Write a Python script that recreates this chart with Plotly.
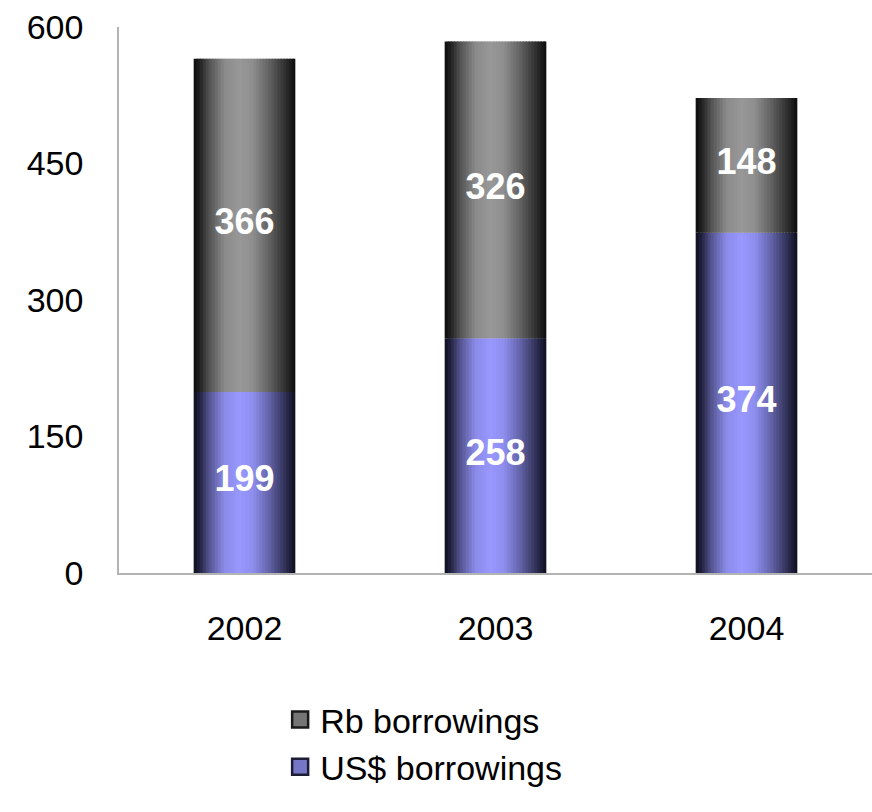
import plotly.graph_objects as go

# ---- data ----
years = ["2002", "2003", "2004"]
usd_borrowings = [199, 258, 374]
rb_borrowings = [366, 326, 148]
series_names = ["Rb borrowings", "US$ borrowings"]
y_ticks = [0, 150, 300, 450, 600]

# ---- styling helpers ----
BAR_W = 0.405
N_SLICES = 34
# brightness profile across bar width (position, factor)
profile = [(0.0, 0.0), (0.06, 0.15), (0.15, 0.5), (0.3, 0.9), (0.45, 1.0),
           (0.58, 0.93), (0.75, 0.6), (0.88, 0.3), (0.96, 0.1), (1.0, 0.0)]


def prof(t):
    for (a, fa), (b, fb) in zip(profile[:-1], profile[1:]):
        if a <= t <= b:
            return fa + (fb - fa) * (t - a) / (b - a)
    return 0.0


def mix(edge, peak, f):
    return "rgb(%d,%d,%d)" % tuple(round(e + (p - e) * f) for e, p in zip(edge, peak))


gray_edge, gray_peak = (12, 12, 12), (152, 152, 152)
blue_edge, blue_peak = (14, 14, 30), (152, 152, 255)

fig = go.Figure()

usd_base = [0] * len(years)
rb_base = usd_borrowings

s = BAR_W / N_SLICES
for name, vals, base, edge, peak, rank in [
    ("US$ borrowings", usd_borrowings, usd_base, blue_edge, blue_peak, 2),
    ("Rb borrowings", rb_borrowings, rb_base, gray_edge, gray_peak, 1),
]:
    for i in range(N_SLICES):
        t = (i + 0.5) / N_SLICES
        w = s * 1.6 if i < N_SLICES - 1 else s
        fig.add_trace(go.Bar(
            x=years, y=vals, base=base,
            width=w, offset=-BAR_W / 2 + i * s,
            marker=dict(color=mix(edge, peak, prof(t)), line=dict(width=0)),
            name=name, legendgroup=name, legendrank=rank,
            showlegend=False, hoverinfo="skip",
        ))
    # legend proxy
    fig.add_trace(go.Scatter(
        x=[None], y=[None], mode="markers", name=name, legendgroup=name, legendrank=rank,
        marker=dict(symbol="square", size=16, color=mix(edge, peak, 0.75),
                    line=dict(width=2.5, color=mix(edge, peak, 0.1))),
        showlegend=True,
    ))

# value labels
for vals, base in [(usd_borrowings, usd_base), (rb_borrowings, rb_base)]:
    fig.add_trace(go.Scatter(
        x=years, y=[b + v / 2 for b, v in zip(base, vals)],
        mode="text", text=[str(v) for v in vals],
        textfont=dict(family="Liberation Sans, Arial", size=36, color="white", weight="bold"),
        showlegend=False, hoverinfo="skip",
    ))

fig.update_layout(
    width=872, height=812,
    margin=dict(l=119, r=0, t=27, b=239),
    barmode="overlay",
    plot_bgcolor="white", paper_bgcolor="white",
    font=dict(family="Liberation Sans, Arial", size=34, color="black"),
    showlegend=True,
    legend=dict(
        x=0.214, xanchor="left", y=-0.216, yanchor="top",
        font=dict(size=34), tracegroupgap=0, bgcolor="rgba(0,0,0,0)",
    ),
    xaxis=dict(
        type="category", categoryorder="array", categoryarray=years,
        range=[-0.5, 2.5], showline=True, linecolor="#b3b3b3", linewidth=1.5,
        showgrid=False, zeroline=False, ticks="", ticklabelstandoff=24,
    ),
    yaxis=dict(
        range=[0, 600], tickvals=y_ticks, showline=True, linecolor="#b3b3b3",
        linewidth=1.5, showgrid=False, zeroline=False, ticks="",
        ticklabelstandoff=27,
    ),
)

fig.write_html(
    "out.html",
    config={"displayModeBar": False},
    post_script="document.body.style.margin='0';document.body.style.overflow='hidden';",
)
